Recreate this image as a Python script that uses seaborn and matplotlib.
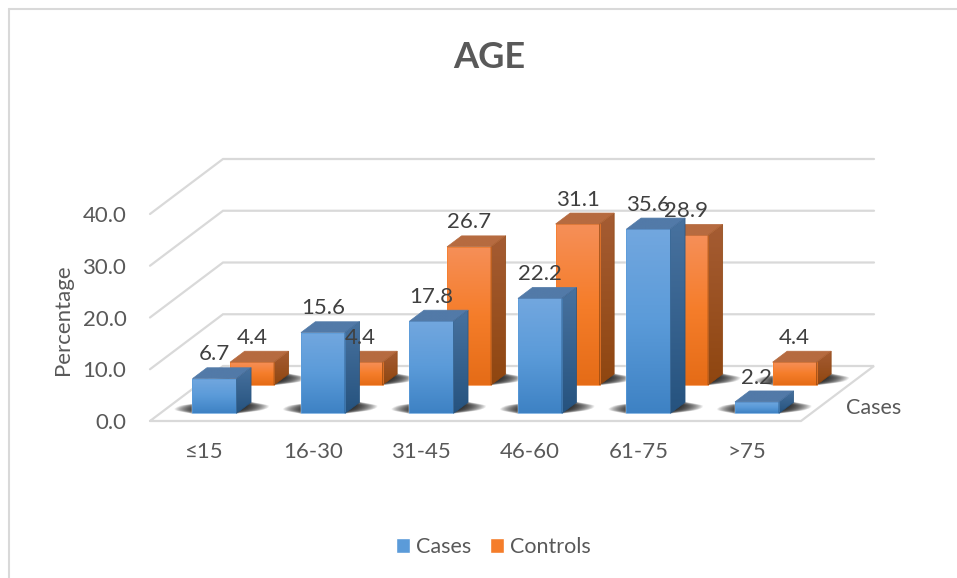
import numpy as np
import pandas as pd
import matplotlib
matplotlib.use("Agg")
import matplotlib.pyplot as plt
from matplotlib.colors import to_rgb
from matplotlib.lines import Line2D
from matplotlib.patches import Patch, Polygon
import seaborn as sns

age_groups = ["≤15", "16-30", "31-45", "46-60", "61-75", ">75"]
cases = [6.7, 15.6, 17.8, 22.2, 35.6, 2.2]
controls = [4.4, 4.4, 26.7, 31.1, 28.9, 4.4]

sns.set_theme(style="white")
plt.rcParams["font.family"] = ["Lato", "DejaVu Sans"]

W, H = 957, 578
LEFT, RIGHT, BASE, TOP40 = 150, 801, 421, 214
GRID = "#d9d9d9"
LABEL = "#595959"
VALUE = "#404040"

fig = plt.figure(figsize=(W / 100, H / 100), dpi=100, facecolor="white")
ax = fig.add_axes([LEFT / W, (H - BASE) / H, (RIGHT - LEFT) / W, (BASE - TOP40) / H])

PX_X = (RIGHT - LEFT) / 6
PX_Y = (BASE - TOP40) / 40
DEPTH_X = 73 / PX_X
DEPTH_Y = 55 / PX_Y


def project(x, value, depth):
    """Oblique projection: depth runs from the front edge (0) to the back wall (1)."""
    return x + depth * DEPTH_X, value + depth * DEPTH_Y


def gradient_face(verts, stops, z):
    """Fill a polygon with a vertical colour gradient."""
    verts = np.asarray(verts)
    stops = np.array([to_rgb(c) for c in stops])
    pos = np.linspace(0, 1, 64)
    grid = np.linspace(0, 1, len(stops))
    ramp = np.stack([np.interp(pos, grid, stops[:, c]) for c in range(3)], axis=1)[:, None, :]
    im = ax.imshow(
        ramp,
        extent=[verts[:, 0].min(), verts[:, 0].max(), verts[:, 1].min(), verts[:, 1].max()],
        aspect="auto", origin="upper", interpolation="bilinear", zorder=z,
    )
    im.set_clip_path(Polygon(verts, closed=True, transform=ax.transData))
    im.set_clip_box(fig.bbox)
    ax.add_patch(Polygon(verts, closed=True, fill=False, ec=stops[len(stops) // 2],
                         lw=0.5, zorder=z + 0.01, clip_on=False))


def floor_shadow(x0, x1, d0, d1, z):
    """Soft shadow around a bar's footprint: nested layers, thinner the further out they reach."""
    layers = 30
    span = d1 - d0
    for k in range(layers):
        t = k / (layers - 1)
        grow = (1 - t) ** 1.4 * 24 / PX_X
        thick = 0.2 + 0.9 * t ** 0.5
        near = d0 + span * (0.5 - 0.5 * thick)
        far = d0 + span * (0.5 + 0.5 * thick)
        pts = [project(x0 - grow, 0, near), project(x1 + grow, 0, near),
               project(x1 + grow, 0, far), project(x0 - grow, 0, far)]
        ax.add_patch(Polygon(pts, closed=True, fc="#262626", ec="none", alpha=0.085,
                             zorder=z, clip_on=False))


def draw_series(values, color, d0, d1, front, side, top, z):
    """Draw one row of bars: seaborn places the fronts, the depth faces follow from them."""
    frame = pd.DataFrame({"Age": age_groups, "Percentage": values})
    before = len(ax.patches)
    sns.barplot(data=frame, x="Age", y="Percentage", color=color, width=44 / PX_X,
                saturation=1, ax=ax, zorder=z, clip_on=False, legend=False)
    for bar, value in list(zip(ax.patches[before:], values)):
        x0 = bar.get_x()
        x1 = x0 + bar.get_width()
        shifted_x, shifted_y = project(x0, 0, d0)
        bar.set_x(shifted_x)
        bar.set_y(shifted_y)
        floor_shadow(x0, x1, d0, d1, z - 0.5)
        a = project(x0, value, d0)
        b = project(x1, value, d0)
        c = project(x1, value, d1)
        e = project(x0, value, d1)
        gradient_face([project(x0, 0, d0), project(x1, 0, d0), b, a], front, z + 0.1)
        gradient_face([project(x1, 0, d0), project(x1, 0, d1), c, b], side, z + 0.1)
        gradient_face([a, b, c, e], top, z + 0.1)
        ax.annotate(f"{value:.1f}", xy=((a[0] + b[0]) / 2, a[1]), xytext=(0, 17.5),
                    textcoords="offset points", ha="center", va="center",
                    fontsize=16, color=VALUE, zorder=20, annotation_clip=False)


# Back wall, side wall and floor outline
for value in [10, 20, 30, 40]:
    pts = [project(-0.5, value, 0), project(-0.5, value, 1), project(5.5, value, 1)]
    ax.plot(*zip(*pts), color=GRID, lw=1.6, clip_on=False, zorder=1, solid_joinstyle="miter")
outline = [project(-0.5, 0, 0), project(5.5, 0, 0), project(5.5, 0, 1),
           project(-0.5, 0, 1), project(-0.5, 0, 0)]
ax.plot(*zip(*outline), color=GRID, lw=1.6, clip_on=False, zorder=1, solid_joinstyle="miter")

draw_series(controls, "#f57a22", 0.655, 0.855,
            ["#f68f58", "#f57d2a", "#e56c17"], ["#a55c33", "#8f4610"], ["#b66b40", "#b66b40"], 3)
draw_series(cases, "#5b9bd5", 0.14, 0.34,
            ["#72a7df", "#5b9bd9", "#3e82c4"], ["#48729f", "#26537f"], ["#527aa8", "#527aa8"], 6)

ax.set_xlim(-0.5, 5.5)
ax.set_ylim(0, 40)
ax.set_yticks([0, 10, 20, 30, 40], [f"{v:.1f}" for v in [0, 10, 20, 30, 40]])
ax.set_xlabel("")
ax.set_ylabel("Percentage", fontsize=16, color=LABEL)
ax.yaxis.set_label_coords((73 - LEFT) / (RIGHT - LEFT), (BASE - 320) / (BASE - TOP40))
ax.tick_params(axis="both", length=0, labelsize=16, labelcolor=LABEL)
ax.tick_params(axis="x", pad=15)
ax.tick_params(axis="y", pad=17)
ax.patch.set_alpha(0)
sns.despine(ax=ax, left=True, bottom=True)

# Label for the depth axis, beside the floor's right edge
ax.text(5.5 + 73 / PX_X, 2.5, "Cases", ha="center", va="center", fontsize=15.5, color=LABEL)

fig.text(489 / W, 1 - 58 / H, "AGE", ha="center", va="center", fontsize=26,
         fontweight="bold", color=LABEL)

handles = [Patch(facecolor="#5b9bd9", label="Cases"), Patch(facecolor="#f57d2a", label="Controls")]
fig.legend(handles=handles, loc="center", bbox_to_anchor=(493.5 / W, 1 - 547 / H), ncol=2, frameon=False,
           fontsize=15.5, labelcolor=LABEL, handlelength=0.65, handleheight=0.65,
           handletextpad=0.3, columnspacing=0.85)

# Chart frame: only the left and top edges are visible
fig.add_artist(Line2D([9 / W, 9 / W], [0, 1 - 9 / H], color=GRID, lw=1.5))
fig.add_artist(Line2D([9 / W, 1], [1 - 9 / H, 1 - 9 / H], color=GRID, lw=1.5))

fig.savefig("out.png", dpi=100)
